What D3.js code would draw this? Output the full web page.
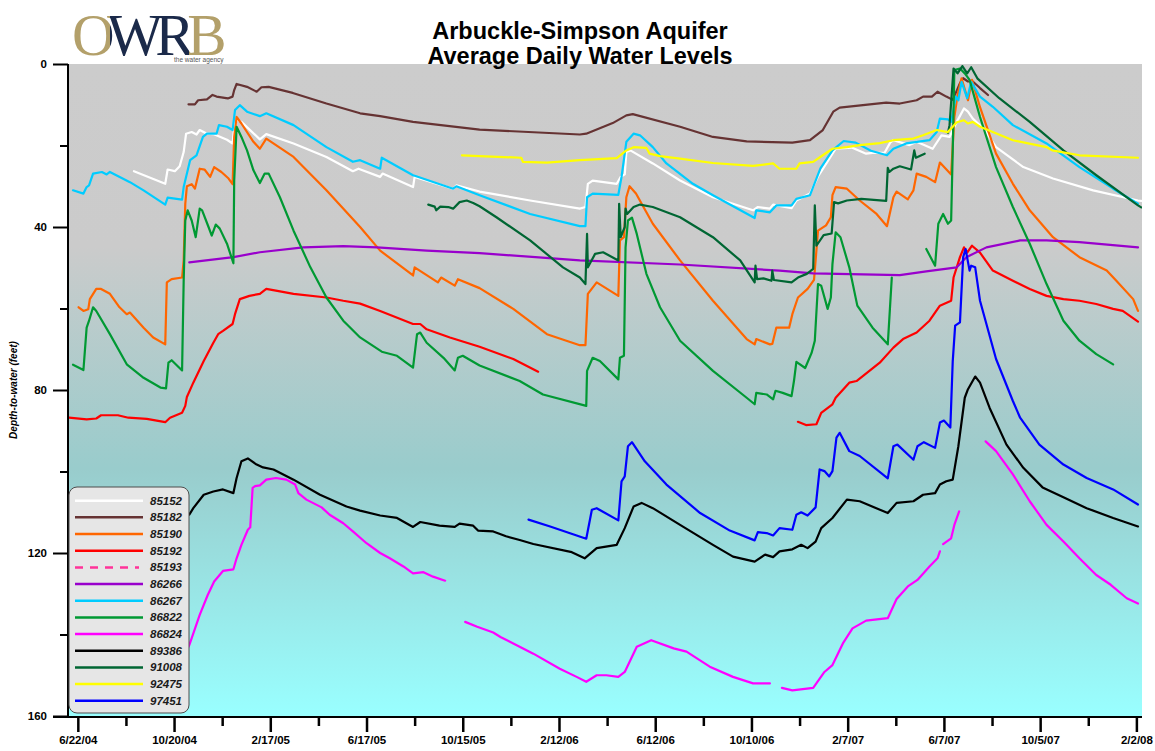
<!DOCTYPE html>
<html><head><meta charset="utf-8">
<script src="https://cdn.jsdelivr.net/npm/d3@7"></script>
<style>html,body{margin:0;padding:0;background:#fff;}svg{display:block;}</style>
</head><body>
<svg id="chart" width="1155" height="751"></svg>
<script>
// ---------------- DATA ----------------
const titleLines = ["Arbuckle-Simpson Aquifer", "Average Daily Water Levels"];
const yAxisTitle = "Depth-to-water (feet)";
const xTickLabels = ["6/22/04","10/20/04","2/17/05","6/17/05","10/15/05","2/12/06","6/12/06","10/10/06","2/7/07","6/7/07","10/5/07","2/2/08"];
const yTickLabels = [0, 40, 80, 120, 160];
const yMinorTicks = [20, 60, 100, 140];

const seriesNames  = ["85152","85182","85190","85192","85193","86266","86267","86822","86824","89386","91008","92475","97451"];
const seriesColors = ["#ffffff","#663333","#ff6600","#ff0000","#ff3399","#9900cc","#00ccff","#009933","#ff00ff","#000000","#006633","#ffff00","#0000ff"];

const s85152 = [["2004-08-31",26.3],["2004-10-09",29.4],["2004-10-12",25.9],["2004-10-21",26.3],["2004-10-27",25.1],["2004-11-01",21.6],["2004-11-04",17.1],["2004-11-11",16.7],["2004-11-17",17.3],["2004-11-21",16.2],["2004-11-30",17.1],["2004-12-08",17.2],["2004-12-25",18.6],["2005-01-01",19.5],["2005-01-03",15.4],["2005-01-06",13.6],["2005-01-12",14.2],["2005-02-04",18.5],["2005-02-12",17.2],["2005-03-18",19.5],["2005-04-28",22.8],["2005-05-31",26.3],["2005-06-07",25.7],["2005-07-04",27.7],["2005-07-07",26.9],["2005-08-14",30.2],["2005-08-16",27.7],["2005-10-03",30.6],["2005-10-07",29.8],["2005-11-05",31.3],["2006-01-07",33.5],["2006-03-10",35.5],["2006-03-17",35.1],["2006-03-20",29.4],["2006-03-26",28.6],["2006-04-25",29.4],["2006-04-30",27.7],["2006-05-05",27.1],["2006-05-07",21.6],["2006-05-12",21.2],["2006-06-09",24.4],["2006-07-13",28.6],["2006-08-23",32.7],["2006-10-12",35.9],["2006-10-18",35.1],["2006-11-02",35.5],["2006-11-06",34.5],["2006-11-29",35.4],["2006-12-05",33.5],["2006-12-22",31.8],["2007-01-01",27.6],["2007-01-12",24.2],["2007-01-23",20.8],["2007-02-12",20.5],["2007-03-02",22.0],["2007-03-10",21.8],["2007-03-25",21.8],["2007-04-01",19.3],["2007-04-05",18.7],["2007-04-25",19.9],["2007-05-04",19.1],["2007-05-24",20.8],["2007-06-04",17.5],["2007-06-14",17.9],["2007-06-23",14.2],["2007-07-02",10.9],["2007-07-07",11.7],["2007-07-13",13.4],["2007-07-28",16.2],["2007-08-11",20.4],["2007-09-14",25.3],["2007-10-21",28.1],["2007-12-10",31.0],["2008-02-04",33.5],["2008-02-08",33.6]];

const s85182 = [["2004-11-07",9.9],["2004-11-15",9.9],["2004-11-19",8.9],["2004-11-30",8.7],["2004-12-07",7.6],["2004-12-12",8.0],["2004-12-26",8.45],["2005-01-01",8.0],["2005-01-03",6.4],["2005-01-06",4.9],["2005-01-19",5.6],["2005-01-31",6.8],["2005-02-06",5.7],["2005-02-15",5.6],["2005-03-17",7.1],["2005-04-28",9.7],["2005-06-09",12.1],["2005-07-04",12.8],["2005-08-14",14.2],["2005-11-05",16.1],["2006-03-10",17.3],["2006-03-18",17.1],["2006-04-20",14.5],["2006-05-07",12.6],["2006-05-15",12.3],["2006-07-13",15.4],["2006-08-23",17.9],["2006-10-04",19.0],["2006-11-30",19.3],["2006-12-22",18.7],["2007-01-07",16.2],["2007-01-20",11.7],["2007-01-28",10.7],["2007-02-26",10.1],["2007-03-27",9.5],["2007-04-13",9.7],["2007-05-04",8.9],["2007-05-12",8.0],["2007-05-23",8.0],["2007-05-30",6.8],["2007-06-10",8.0],["2007-06-18",8.8],["2007-06-27",4.7],["2007-07-01",3.5],["2007-07-07",4.3],["2007-07-13",4.3],["2007-07-22",5.9],["2007-08-01",7.6]];

const s85190 = [["2004-06-23",59.7],["2004-06-29",60.6],["2004-07-05",60.2],["2004-07-07",57.7],["2004-07-15",55.2],["2004-07-21",55.2],["2004-08-01",56.4],["2004-08-13",59.7],["2004-08-22",61.4],["2004-08-26",61.0],["2004-09-12",64.7],["2004-09-24",67.1],["2004-10-09",68.8],["2004-10-11",53.6],["2004-10-17",52.8],["2004-10-30",52.4],["2004-11-01",48.2],["2004-11-03",34.3],["2004-11-05",30.0],["2004-11-11",29.5],["2004-11-15",30.6],["2004-11-21",25.7],["2004-11-27",25.9],["2004-12-04",27.7],["2004-12-09",25.3],["2004-12-18",26.5],["2004-12-27",28.1],["2005-01-01",29.5],["2005-01-03",17.9],["2005-01-06",13.0],["2005-01-12",14.6],["2005-01-27",19.1],["2005-02-04",20.8],["2005-02-12",18.3],["2005-03-18",22.8],["2005-04-28",31.0],["2005-06-09",40.0],["2005-07-04",45.8],["2005-08-14",51.9],["2005-08-16",49.9],["2005-09-14",53.6],["2005-09-18",52.4],["2005-10-05",54.4],["2005-10-09",52.8],["2005-11-05",55.0],["2005-12-17",60.1],["2006-01-28",66.3],["2006-03-10",69.0],["2006-03-17",69.0],["2006-03-20",56.4],["2006-03-31",53.6],["2006-04-27",56.9],["2006-04-29",43.3],["2006-05-04",42.5],["2006-05-07",32.7],["2006-05-11",30.0],["2006-05-19",31.8],["2006-06-09",39.2],["2006-07-13",48.2],["2006-08-23",58.1],["2006-10-04",67.5],["2006-10-14",68.8],["2006-10-16",67.5],["2006-11-02",68.8],["2006-11-05",68.7],["2006-11-10",64.7],["2006-11-26",64.7],["2006-11-30",61.4],["2006-12-07",57.3],["2006-12-19",55.2],["2006-12-27",53.0],["2007-01-01",40.9],["2007-01-11",39.6],["2007-01-17",37.6],["2007-01-19",32.2],["2007-01-23",30.2],["2007-02-06",30.6],["2007-02-22",33.5],["2007-03-15",36.8],["2007-03-28",39.8],["2007-04-05",32.7],["2007-04-09",31.3],["2007-04-23",33.2],["2007-04-30",31.0],["2007-05-04",26.9],["2007-05-16",27.7],["2007-05-27",29.0],["2007-06-02",24.2],["2007-06-16",27.1],["2007-06-20",13.0],["2007-06-24",7.6],["2007-06-29",3.5],["2007-07-07",8.9],["2007-07-12",3.9],["2007-07-22",10.6],["2007-08-11",22.0],["2007-09-01",29.4],["2007-09-22",35.9],["2007-10-21",42.5],["2007-11-23",47.4],["2007-12-27",50.7],["2008-01-08",53.2],["2008-01-29",57.7],["2008-02-04",60.6]];

const s85192 = [["2004-06-11",86.8],["2004-07-03",87.2],["2004-07-15",87.0],["2004-07-21",86.2],["2004-08-11",86.2],["2004-08-24",86.8],["2004-09-16",87.1],["2004-10-09",87.9],["2004-10-15",86.8],["2004-10-30",85.6],["2004-11-03",83.9],["2004-11-05",81.7],["2004-11-13",78.2],["2004-11-26",72.9],["2004-12-08",68.4],["2004-12-14",66.3],["2004-12-20",65.5],["2005-01-01",63.8],["2005-01-04",61.4],["2005-01-10",57.7],["2005-01-22",56.9],["2005-02-04",56.4],["2005-02-12",55.2],["2005-02-24",55.6],["2005-03-18",56.4],["2005-04-28",57.3],["2005-05-19",58.1],["2005-06-09",58.8],["2005-07-04",60.6],["2005-08-14",63.8],["2005-08-23",63.8],["2005-08-31",65.1],["2005-09-29",67.1],["2005-11-05",69.4],["2005-12-17",72.4],["2006-01-17",75.5],
  null,
  ["2006-12-07",87.8],["2006-12-17",88.6],["2006-12-30",88.4],["2007-01-05",85.6],["2007-01-19",83.5],["2007-01-23",81.9],["2007-02-09",78.2],["2007-02-18",77.8],["2007-03-19",73.3],["2007-04-05",69.6],["2007-04-17",67.5],["2007-05-04",65.9],["2007-05-20",63.0],["2007-06-02",59.3],["2007-06-16",58.1],["2007-06-19",52.4],["2007-06-27",47.4],["2007-07-02",45.0],["2007-07-06",46.3],["2007-07-12",44.6],["2007-07-22",46.3],["2007-08-07",50.7],["2007-09-01",53.2],["2007-09-22",55.2],["2007-10-13",56.9],["2007-11-03",57.7],["2007-11-23",58.1],["2007-12-14",58.9],["2008-01-04",60.1],["2008-01-16",60.6],["2008-02-04",63.2]];

const s85193 = [];

const s86266 = [["2004-11-08",48.7],["2005-01-02",47.4],["2005-02-04",46.2],["2005-03-30",45.0],["2005-05-19",44.7],["2005-06-30",45.0],["2005-08-31",45.8],["2005-11-05",46.4],["2006-03-10",48.2],["2006-07-13",49.2],["2006-11-14",50.7],["2006-12-26",51.4],["2007-04-13",51.8],["2007-05-16",50.9],["2007-06-23",49.9],["2007-07-05",47.4],["2007-07-30",45.0],["2007-09-10",43.3],["2007-10-13",43.3],["2007-11-23",43.7],["2008-02-04",45.0]];

const s86267 = [["2004-06-16",31.0],["2004-06-29",31.8],["2004-07-03",30.2],["2004-07-06",29.8],["2004-07-11",26.9],["2004-07-22",26.5],["2004-07-28",27.1],["2004-08-01",26.5],["2004-08-26",29.0],["2004-09-12",31.0],["2004-10-09",34.5],["2004-10-12",32.8],["2004-10-30",33.3],["2004-11-01",30.2],["2004-11-09",23.6],["2004-11-17",22.4],["2004-11-25",17.9],["2004-11-30",17.1],["2004-12-12",17.1],["2004-12-15",15.0],["2004-12-25",15.4],["2005-01-01",16.2],["2005-01-04",11.3],["2005-01-10",10.1],["2005-01-19",11.7],["2005-02-04",12.8],["2005-02-12",12.1],["2005-03-18",15.0],["2005-04-28",20.4],["2005-05-31",24.0],["2005-06-09",23.6],["2005-07-04",25.7],["2005-07-06",23.0],["2005-08-14",27.3],["2005-08-17",27.5],["2005-10-03",30.6],["2005-10-07",30.0],["2005-11-05",32.2],["2006-01-07",36.8],["2006-03-10",39.8],["2006-03-17",39.8],["2006-03-19",32.7],["2006-03-26",31.8],["2006-04-27",32.1],["2006-05-01",27.7],["2006-05-07",19.1],["2006-05-16",17.1],["2006-05-24",17.5],["2006-06-09",20.4],["2006-06-26",24.4],["2006-07-29",29.4],["2006-08-23",32.2],["2006-10-14",37.8],["2006-10-16",35.9],["2006-11-02",36.4],["2006-11-10",34.7],["2006-11-29",34.7],["2006-12-05",33.1],["2006-12-22",32.2],["2007-01-04",25.6],["2007-01-19",21.2],["2007-02-02",18.9],["2007-02-17",19.3],["2007-03-08",21.3],["2007-03-28",22.4],["2007-04-05",20.8],["2007-04-21",19.5],["2007-05-20",18.7],["2007-05-29",16.7],["2007-06-02",13.4],["2007-06-12",13.6],["2007-06-16",14.2],["2007-06-22",8.0],["2007-06-25",8.9],["2007-06-29",4.4],["2007-07-06",8.4],["2007-07-11",4.4],["2007-07-22",8.0],["2007-08-07",10.5],["2007-09-01",15.0],["2007-10-13",19.5],["2007-11-23",25.3],["2008-01-04",30.6],["2008-02-04",34.3]];

const s86822 = [["2004-06-16",73.8],["2004-06-29",75.1],["2004-07-03",64.7],["2004-07-06",63.0],["2004-07-11",59.7],["2004-07-15",60.6],["2004-08-01",66.3],["2004-08-22",73.7],["2004-09-12",77.0],["2004-10-03",79.4],["2004-10-10",79.6],["2004-10-13",73.3],["2004-10-17",72.7],["2004-10-30",75.2],["2004-11-01",53.2],["2004-11-03",38.4],["2004-11-06",35.9],["2004-11-11",38.4],["2004-11-16",42.5],["2004-11-21",35.5],["2004-11-24",35.9],["2004-12-02",40.0],["2004-12-06",42.1],["2004-12-11",39.4],["2004-12-16",40.4],["2004-12-25",44.1],["2005-01-02",48.9],["2005-01-03",28.6],["2005-01-06",15.4],["2005-01-12",17.9],["2005-01-19",21.2],["2005-01-27",26.1],["2005-02-04",29.2],["2005-02-10",26.9],["2005-02-15",26.9],["2005-03-01",32.7],["2005-03-18",40.9],["2005-04-08",49.9],["2005-04-28",57.3],["2005-05-19",63.0],["2005-06-09",67.1],["2005-07-06",70.6],["2005-07-25",71.6],["2005-08-14",74.5],["2005-08-19",66.3],["2005-08-23",65.9],["2005-08-31",68.4],["2005-09-21",72.1],["2005-10-05",75.2],["2005-10-09",72.1],["2005-10-15",71.6],["2005-11-05",74.0],["2005-12-25",77.8],["2006-01-23",81.1],["2006-03-18",83.9],["2006-03-19",75.3],["2006-03-26",72.1],["2006-04-04",72.9],["2006-04-27",77.4],["2006-04-29",72.1],["2006-05-04",71.6],["2006-05-06",45.0],["2006-05-09",38.4],["2006-05-14",37.7],["2006-05-20",41.7],["2006-06-01",51.5],["2006-06-18",59.7],["2006-07-13",67.9],["2006-08-23",75.3],["2006-10-04",81.9],["2006-10-14",83.5],["2006-10-16",80.7],["2006-10-29",81.1],["2006-11-06",82.3],["2006-11-09",80.2],["2006-11-18",80.7],["2006-11-29",81.5],["2006-12-02",77.8],["2006-12-05",73.1],["2006-12-16",74.6],["2006-12-24",70.9],["2006-12-28",67.9],["2007-01-01",54.0],["2007-01-05",54.4],["2007-01-13",60.1],["2007-01-17",57.3],["2007-01-19",49.1],["2007-01-23",41.3],["2007-01-29",42.5],["2007-02-09",49.9],["2007-02-19",59.3],["2007-03-10",64.7],["2007-03-29",68.8],["2007-04-03",52.4],
  null,
  ["2007-05-16",45.4],["2007-05-27",49.5],["2007-05-31",39.2],["2007-06-06",36.8],["2007-06-12",39.2],["2007-06-16",38.4],["2007-06-18",21.2],["2007-06-20",1.5],["2007-06-27",1.1],["2007-07-03",2.3],["2007-07-09",3.9],["2007-07-22",13.0],["2007-08-11",25.3],["2007-09-01",35.1],["2007-09-22",44.1],["2007-10-13",54.0],["2007-11-03",63.0],["2007-11-23",67.9],["2007-12-14",71.2],["2008-01-04",73.7]];

const s86824 = [["2004-11-05",143.8],["2004-11-08",142.6],["2004-11-21",135.2],["2004-12-01",130.3],["2004-12-09",127.0],["2004-12-20",124.4],["2005-01-02",124.0],["2005-01-06",121.3],["2005-01-12",118.0],["2005-01-20",114.3],["2005-01-23",113.7],["2005-01-26",104.0],["2005-01-29",103.6],["2005-02-04",103.4],["2005-02-12",102.0],["2005-02-24",101.6],["2005-03-09",102.0],["2005-03-20",103.2],["2005-03-24",105.3],["2005-04-03",106.9],["2005-04-11",107.7],["2005-04-22",108.8],["2005-05-02",110.6],["2005-05-19",112.7],["2005-05-31",114.7],["2005-06-17",117.6],["2005-07-04",120.0],["2005-07-16",121.3],["2005-08-02",123.3],["2005-08-14",125.0],["2005-08-27",124.7],["2005-09-08",125.8],["2005-09-23",126.8],
  null,
  ["2005-10-18",136.9],["2005-11-02",138.1],["2005-11-22",139.5],["2005-12-01",140.6],["2005-12-17",142.2],["2006-01-11",144.7],["2006-02-13",148.4],["2006-03-06",150.4],["2006-03-18",151.6],["2006-03-31",150.0],["2006-04-12",150.0],["2006-04-27",150.4],["2006-05-05",149.2],["2006-05-20",143.0],["2006-06-07",141.4],["2006-07-05",143.4],["2006-07-21",144.2],["2006-08-19",147.9],["2006-09-17",150.4],["2006-10-12",152.0],["2006-11-02",152.0],
  null,
  ["2006-11-17",153.1],["2006-11-30",153.7],["2006-12-26",153.1],["2007-01-09",149.2],["2007-01-19",147.5],["2007-02-01",142.2],["2007-02-13",138.5],["2007-03-02",136.6],["2007-03-29",136.0],["2007-04-09",131.3],["2007-04-23",128.2],["2007-05-05",126.6],["2007-05-20",123.3],["2007-05-30",121.3],["2007-06-02",119.6],
  null,
  ["2007-06-06",117.8],["2007-06-16",116.4],["2007-06-20",113.1],["2007-06-26",109.8],
  null,
  ["2007-07-29",92.6],["2007-08-11",95.0],["2007-09-01",100.7],["2007-09-22",107.3],["2007-10-13",113.1],["2007-11-03",117.2],["2007-11-23",121.3],["2007-12-14",125.4],["2008-01-01",127.8],["2008-01-21",131.1],["2008-02-04",132.4]];

const s89386 = [["2004-06-11",112.7],["2004-11-08",110.6],["2004-11-13",109.0],["2004-11-26",105.7],["2004-12-08",104.9],["2004-12-20",104.4],["2005-01-02",105.3],["2005-01-06",101.6],["2005-01-12",97.5],["2005-01-20",96.8],["2005-01-31",98.3],["2005-02-08",99.0],["2005-02-21",99.5],["2005-03-18",102.0],["2005-04-20",105.7],["2005-05-23",108.6],["2005-06-09",109.6],["2005-07-04",110.8],["2005-07-25",111.4],["2005-08-14",113.6],["2005-08-23",112.4],["2005-09-16",113.3],["2005-10-05",113.6],["2005-10-11",112.8],["2005-10-28",113.3],["2005-11-03",114.5],["2005-11-22",114.7],["2005-12-08",115.9],["2005-12-25",116.8],["2006-01-11",117.8],["2006-02-28",119.8],["2006-03-16",121.3],["2006-03-31",118.8],["2006-04-25",118.0],["2006-05-05",113.9],["2006-05-16",108.6],["2006-05-26",107.7],["2006-06-09",109.0],["2006-07-13",113.1],["2006-08-23",118.0],["2006-09-17",120.9],["2006-10-14",122.1],["2006-10-27",120.4],["2006-11-06",121.0],["2006-11-14",119.6],["2006-11-30",119.1],["2006-12-11",118.0],["2006-12-19",118.8],["2006-12-29",117.2],["2007-01-05",113.9],["2007-01-19",111.4],["2007-02-06",106.9],["2007-02-22",107.3],["2007-03-29",110.2],["2007-04-09",107.7],["2007-04-30",107.3],["2007-05-12",105.7],["2007-05-27",105.3],["2007-06-02",103.2],["2007-06-10",102.4],["2007-06-18",102.0],["2007-06-25",93.8],["2007-07-03",81.9],["2007-07-07",79.8],["2007-07-16",76.7],["2007-07-22",78.2],["2007-08-03",84.4],["2007-08-24",93.4],["2007-09-14",99.1],["2007-10-08",103.9],["2007-11-05",106.5],["2007-12-02",109.0],["2008-01-04",111.4],["2008-02-04",113.5]];

const s91008 = [["2005-09-02",34.5],["2005-09-10",35.0],["2005-09-12",35.9],["2005-09-17",35.0],["2005-09-27",35.1],["2005-10-03",35.5],["2005-10-11",33.9],["2005-10-20",33.5],["2005-10-28",34.1],["2005-11-05",34.9],["2005-11-26",37.6],["2006-01-07",43.3],["2006-02-17",49.9],["2006-03-10",52.4],["2006-03-17",54.0],["2006-03-19",41.7],["2006-03-20",49.9],["2006-03-29",46.6],["2006-04-08",46.2],["2006-04-27",48.2],["2006-04-28",34.3],["2006-04-30",42.5],["2006-05-05",40.0],["2006-05-06",35.5],["2006-05-08",36.8],["2006-05-16",35.1],["2006-05-24",34.5],["2006-06-09",35.1],["2006-07-13",37.6],["2006-08-23",42.5],["2006-09-26",48.2],["2006-10-14",53.6],["2006-10-15",49.5],["2006-10-17",52.8],["2006-10-25",52.6],["2006-11-04",53.2],["2006-11-05",50.7],["2006-11-07",53.0],["2006-11-29",53.6],["2006-12-07",52.4],["2006-12-18",51.5],["2006-12-26",50.3],["2006-12-28",34.7],["2006-12-30",44.6],["2007-01-08",42.0],["2007-01-18",41.6],["2007-01-21",33.9],["2007-01-26",34.2],["2007-02-06",33.5],["2007-02-24",33.1],["2007-03-27",33.6],["2007-03-29",25.5],["2007-03-31",26.5],["2007-04-05",25.7],["2007-04-13",25.1],["2007-04-27",25.9],["2007-05-01",21.2],["2007-05-03",23.0],["2007-05-14",22.0],
  null,
  ["2007-06-12",16.9],["2007-06-14",15.0],["2007-06-19",1.1],["2007-06-24",2.3],["2007-06-30",0.5],["2007-07-06",2.3],["2007-07-11",0.8],["2007-07-19",3.6],["2007-08-15",8.4],["2007-09-22",14.2],["2007-11-03",21.2],["2007-12-14",27.3],["2008-02-04",34.7],["2008-02-08",35.2]];

const s92475 = [["2005-10-14",22.4],["2005-11-05",22.6],["2005-12-27",23.0],["2005-12-29",24.0],["2006-01-28",24.2],["2006-03-10",23.6],["2006-04-25",23.1],["2006-05-07",21.2],["2006-05-16",20.4],["2006-06-01",20.6],["2006-06-05",22.0],["2006-06-18",22.6],["2006-07-13",23.2],["2006-08-23",24.3],["2006-10-12",25.0],["2006-11-06",24.4],["2006-11-14",25.7],["2006-12-05",25.7],["2006-12-09",24.4],["2006-12-26",24.0],["2007-01-07",22.4],["2007-01-19",20.8],["2007-02-06",20.4],["2007-02-22",19.9],["2007-03-19",19.4],["2007-04-05",18.7],["2007-04-30",18.3],["2007-05-12",17.5],["2007-05-29",16.2],["2007-06-12",16.7],["2007-06-23",14.3],["2007-07-02",13.8],["2007-07-07",14.6],["2007-07-13",14.2],["2007-07-22",15.4],["2007-09-01",18.7],["2007-10-13",20.4],["2007-10-20",21.2],["2007-11-23",22.4],["2008-02-04",23.0]];

const s97451 = [["2006-01-05",111.8],["2006-02-01",113.5],["2006-03-18",116.5],["2006-03-25",109.4],["2006-03-31",109.0],["2006-04-27",112.0],["2006-05-01",102.4],["2006-05-05",101.2],["2006-05-09",93.8],["2006-05-14",92.8],["2006-05-30",97.5],["2006-06-26",103.2],["2006-08-07",110.2],["2006-09-13",114.5],["2006-10-14",116.9],["2006-10-18",114.9],["2006-10-29",115.1],["2006-11-06",115.7],["2006-11-14",113.9],["2006-11-30",114.3],["2006-12-05",110.6],["2006-12-11",110.0],["2006-12-19",110.8],["2006-12-29",108.8],["2007-01-03",99.5],["2007-01-09",99.9],["2007-01-15",101.2],["2007-01-19",99.9],["2007-01-24",91.7],["2007-01-28",90.5],["2007-02-09",95.0],["2007-02-22",96.2],["2007-03-29",101.7],["2007-04-05",93.8],["2007-04-10",93.4],["2007-04-30",97.1],["2007-05-05",93.8],["2007-05-13",92.8],["2007-05-27",94.2],["2007-06-02",88.0],["2007-06-07",87.5],["2007-06-15",89.2],["2007-06-18",72.9],["2007-06-21",64.2],["2007-06-27",63.4],["2007-07-01",47.4],["2007-07-04",45.4],["2007-07-09",50.7],["2007-07-11",49.5],["2007-07-16",49.9],["2007-07-22",58.1],["2007-08-11",72.4],["2007-09-01",82.7],["2007-09-10",86.8],["2007-10-04",93.4],["2007-11-03",98.3],["2007-12-02",101.6],["2008-01-04",104.4],["2008-02-04",108.1]];

const seriesData = [s85152, s85182, s85190, s85192, s85193, s86266, s86267, s86822, s86824, s89386, s91008, s92475, s97451];

// ---------------- CHART ----------------
const W = 1155, H = 751;
const plot = {left: 69, right: 1142, top: 64, bottom: 716};
const FONT = "Arial, 'Liberation Sans', Helvetica, sans-serif";
const parseDate = d3.utcParse("%Y-%m-%d");
const parseTick = d3.utcParse("%m/%d/%y");
const svg = d3.select("#chart");

svg.append("rect").attr("width", W).attr("height", H).attr("fill", "#ffffff");

const x = d3.scaleUtc()
  .domain([parseDate("2004-06-11"), parseDate("2008-02-09")])
  .range([plot.left, plot.right]);
const y = d3.scaleLinear().domain([0, 160]).range([plot.top, plot.bottom]);

// background gradient
const defs = svg.append("defs");
const grad = defs.append("linearGradient").attr("id", "bg").attr("x1", 0).attr("y1", 0).attr("x2", 0).attr("y2", 1);
[[0, "#cccccc"], [0.28, "#cbcbcb"], [0.62, "#99cccc"], [1, "#99ffff"]].forEach(s =>
  grad.append("stop").attr("offset", s[0]).attr("stop-color", s[1]));
defs.append("clipPath").attr("id", "clip").append("rect")
  .attr("x", plot.left).attr("y", plot.top).attr("width", plot.right - plot.left).attr("height", plot.bottom - plot.top);
// logo letter colouring (gold O, navy W R, gold B)
const lg = defs.append("linearGradient").attr("id", "logoFill").attr("gradientUnits", "userSpaceOnUse")
  .attr("x1", 72).attr("y1", 0).attr("x2", 226).attr("y2", 0);
[[0, "#b3a06a"], [0.25, "#b3a06a"], [0.25, "#1b2a4a"], [0.76, "#1b2a4a"], [0.76, "#b3a06a"], [1, "#b3a06a"]].forEach(s =>
  lg.append("stop").attr("offset", s[0]).attr("stop-color", s[1]));

svg.append("rect").attr("x", plot.left).attr("y", plot.top)
  .attr("width", plot.right - plot.left).attr("height", plot.bottom - plot.top)
  .attr("fill", "url(#bg)");

// Logo (one text element: big letters + tag line)
const logo = svg.append("text").attr("x", 72).attr("y", 55)
  .attr("font-family", "'Liberation Serif', 'DejaVu Serif', 'Times New Roman', serif");
logo.append("tspan").attr("font-size", 59).attr("letter-spacing", -7.5).attr("fill", "url(#logoFill)").text("OWRB");
logo.append("tspan").attr("x", 174).attr("y", 62).attr("font-family", FONT).attr("font-size", 6.5)
  .attr("letter-spacing", 0).attr("fill", "#555").text("the water agency");

// Title
titleLines.forEach((t, i) =>
  svg.append("text").attr("x", 580).attr("y", 39 + i * 25).attr("text-anchor", "middle")
    .attr("font-family", FONT).attr("font-weight", "bold").attr("font-size", 23.5).attr("fill", "#000").text(t));

// Series lines
const line = d3.line()
  .defined(d => d !== null)
  .x(d => x(parseDate(d[0])))
  .y(d => y(d[1]));
const gLines = svg.append("g").attr("clip-path", "url(#clip)");
seriesData.forEach((data, i) => {
  if (!data.length) return;
  gLines.append("path").datum(data)
    .attr("d", line)
    .attr("fill", "none")
    .attr("stroke", seriesColors[i])
    .attr("stroke-width", 2.2)
    .attr("stroke-linejoin", "round")
    .attr("stroke-linecap", "round")
    .attr("stroke-dasharray", seriesNames[i] === "85193" ? "7,6" : null);
});

// Y axis
const yAxis = d3.axisLeft(y).tickValues(yTickLabels).tickSize(15).tickPadding(6);
const gy = svg.append("g").attr("transform", `translate(${plot.left - 1},0)`).call(yAxis);
gy.select(".domain").remove();
gy.selectAll(".tick line").attr("stroke", "#000").attr("stroke-width", 2);
gy.selectAll(".tick text").attr("font-family", FONT).attr("font-weight", "bold").attr("font-size", 11.5).attr("fill", "#000");
const yMinor = d3.axisLeft(y).tickValues(yMinorTicks).tickSize(8).tickFormat("");
const gym = svg.append("g").attr("transform", `translate(${plot.left - 1},0)`).call(yMinor);
gym.select(".domain").remove();
gym.selectAll(".tick line").attr("stroke", "#000").attr("stroke-width", 2);
svg.append("line").attr("x1", plot.left - 1).attr("x2", plot.left - 1).attr("y1", plot.top).attr("y2", plot.bottom + 1)
  .attr("stroke", "#000").attr("stroke-width", 2);

// X axis
const majorDates = xTickLabels.map(parseTick);
const minorDates = majorDates.slice(0, -1).map(d => d3.utcDay.offset(d, 60));
const xAxis = d3.axisBottom(x).tickValues(majorDates).tickSize(15).tickPadding(4).tickFormat(d3.utcFormat("%-m/%-d/%y"));
const gx = svg.append("g").attr("transform", `translate(0,${plot.bottom + 1})`).call(xAxis);
gx.select(".domain").remove();
gx.selectAll(".tick line").attr("stroke", "#000").attr("stroke-width", 2.5);
gx.selectAll(".tick text").attr("font-family", FONT).attr("font-weight", "bold").attr("font-size", 11.5).attr("fill", "#000");
const xMinor = d3.axisBottom(x).tickValues(minorDates).tickSize(9).tickFormat("");
const gxm = svg.append("g").attr("transform", `translate(0,${plot.bottom + 1})`).call(xMinor);
gxm.select(".domain").remove();
gxm.selectAll(".tick line").attr("stroke", "#000").attr("stroke-width", 2.5);
svg.append("line").attr("x1", plot.left - 16).attr("x2", plot.right).attr("y1", plot.bottom + 1).attr("y2", plot.bottom + 1)
  .attr("stroke", "#000").attr("stroke-width", 2);

// Y axis title
svg.append("text").attr("transform", `translate(17,${(plot.top + plot.bottom) / 2}) rotate(-90)`)
  .attr("text-anchor", "middle").attr("font-family", FONT).attr("font-weight", "bold").attr("font-style", "italic")
  .attr("font-size", 10).attr("fill", "#000").text(yAxisTitle);

// Legend
const leg = svg.append("g");
leg.append("rect").attr("x", 69).attr("y", 487).attr("width", 120).attr("height", 226).attr("rx", 8)
  .attr("fill", "#e6e6e6").attr("stroke", "#4d4d4d").attr("stroke-width", 1);
seriesNames.forEach((name, i) => {
  const yy = 500.7 + i * 16.67;
  leg.append("line").attr("x1", 75).attr("x2", name === "85193" ? 139 : 143).attr("y1", yy).attr("y2", yy)
    .attr("stroke", seriesColors[i]).attr("stroke-width", 2.5)
    .attr("stroke-dasharray", name === "85193" ? "8,7" : null);
  leg.append("text").attr("x", 182).attr("y", yy + 4).attr("text-anchor", "end")
    .attr("font-family", FONT).attr("font-weight", "bold").attr("font-style", "italic").attr("font-size", 11.5)
    .attr("fill", "#1a1a1a").text(name);
});
</script>
</body></html>
